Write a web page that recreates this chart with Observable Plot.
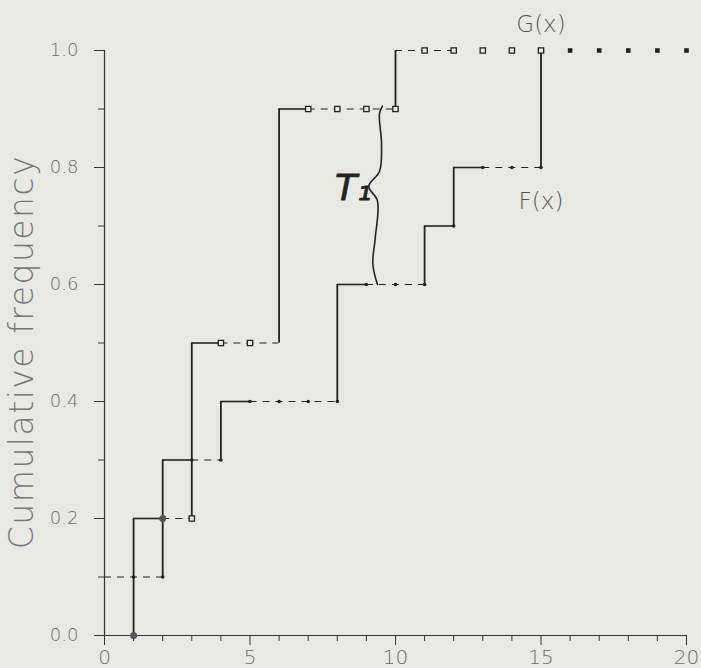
<!DOCTYPE html>
<html><head><meta charset="utf-8">
<script src="https://cdn.jsdelivr.net/npm/d3@7"></script>
<script src="https://cdn.jsdelivr.net/npm/@observablehq/plot@0.6"></script>
<style>
html,body{margin:0;padding:0;background:#e9e9e3;}
#chart svg{display:block;}
.ylab text{letter-spacing:1.5px;}
</style></head><body><div id="chart"></div>
<script>
// Step functions
const F_jumpX = [0, 2, 4, 8, 11, 12, 15];
const F_level = [0.1, 0.3, 0.4, 0.6, 0.7, 0.8, 1.0];
const G_jumpX = [1, 3, 6, 10];
const G_level = [0.2, 0.5, 0.9, 1.0];
// markers (left limits at integers)
const F_markX = [1,2,3,4,5,6,7,8,9,10,11,12,13,14,15];
const F_markY = [0.1,0.1,0.3,0.3,0.4,0.4,0.4,0.4,0.6,0.6,0.6,0.7,0.8,0.8,0.8];
const G_markX = [3,4,5,7,8,9,10,11,12,13,14,15];
const G_markY = [0.2,0.5,0.5,0.9,0.9,0.9,0.9,1,1,1,1,1];
const G_startX = [1,2];
const G_startY = [0,0.2];
const tailX = [16,17,18,19,20];
const tailY = [1,1,1,1,1];
const G_dashEnd = 12;
// ticks
const xMajor = [0,5,10,15,20];
const xMinor = [1,2,3,4,6,7,8,9,11,12,13,14,16,17,18,19];
const yMajor = [0,0.2,0.4,0.6,0.8,1.0];
const yMinor = [0.1,0.3,0.5,0.7,0.9];

const INK = "#222";
const BG = "#e9e9e3";
const FONT = "'DejaVu Sans', 'Noto Sans', sans-serif";

// build segments
const vSegs = [], hSolid = [], hDash = [];
F_jumpX.forEach((x, i) => { if (i > 0) vSegs.push({x, y1: F_level[i-1], y2: F_level[i]}); });
G_jumpX.forEach((x, i) => { vSegs.push({x, y1: i ? G_level[i-1] : 0, y2: G_level[i]}); });
for (let i = 0; i < F_jumpX.length - 1; i++) {
  const a = F_jumpX[i], b = F_jumpX[i+1], y = F_level[i];
  const s = i === 0 ? a : Math.min(a + 1, b);
  if (s > a) hSolid.push({x1: a, x2: s, y});
  if (b > s) hDash.push({x1: s, x2: b, y});
}
for (let i = 0; i < G_jumpX.length; i++) {
  const a = G_jumpX[i], b = i < G_jumpX.length - 1 ? G_jumpX[i+1] : G_dashEnd, y = G_level[i];
  const s = i === G_jumpX.length - 1 ? a : Math.min(a + 1, b);
  if (s > a) hSolid.push({x1: a, x2: s, y});
  if (b > s) hDash.push({x1: s, x2: b, y});
}
const zip = (xs, ys) => xs.map((x, i) => ({x, y: ys[i]}));

// brace between G=0.9 and F=0.6 near x = 9.5
const gTop = G_level[2], fBot = F_level[3], bx = G_jumpX[3] - 0.5;
const bm = fBot + (gTop - fBot) * 0.56;
const brace = [
  [bx + 0.05, gTop + 0.005], [bx - 0.05, gTop - 0.008], [bx + 0.02, gTop - 0.06],
  [bx - 0.05, bm + 0.025], [bx - 0.42, bm], [bx - 0.12, bm - 0.025],
  [bx - 0.2, bm - 0.09], [bx - 0.28, fBot + 0.035], [bx - 0.12, fBot]
].map(([x, y]) => ({x, y}));

const plot = Plot.plot({
  width: 701, height: 668,
  marginLeft: 104, marginRight: 15, marginTop: 50, marginBottom: 33,
  x: {domain: [0, 20], label: null},
  y: {domain: [0, 1], label: null},
  style: {background: BG, fontFamily: FONT},
  marks: [
    Plot.ruleX([0], {stroke: "#333", strokeWidth: 1.2}),
    Plot.ruleY([0], {stroke: "#333", strokeWidth: 1.2}),
    Plot.axisY(yMinor, {tickSize: 6, text: null, stroke: "#333", label: null}),
    Plot.axisY(yMajor, {tickSize: 10, text: null, stroke: "#333", label: null}),
    Plot.axisY(yMajor, {tickSize: 0, tickPadding: 26, tickFormat: d => d.toFixed(1), fontSize: 18, fontWeight: 200, fill: "#6a6a6a", label: null}),
    Plot.axisX(xMinor, {tickSize: 6, text: null, stroke: "#333", label: null}),
    Plot.axisX(xMajor, {tickSize: 10, text: null, stroke: "#333", label: null}),
    Plot.axisX(xMajor, {tickSize: 0, tickPadding: 14, fontSize: 20, fontWeight: 200, fill: "#6a6a6a", label: null}),
    Plot.text(["Cumulative frequency"], {className: "ylab", frameAnchor: "left", textAnchor: "middle", rotate: -90, dx: -82, dy: 9, fontSize: 33, fontWeight: 200, fill: "#777"}),
    Plot.ruleY(hDash, {y: "y", x1: "x1", x2: "x2", stroke: INK, strokeWidth: 1.1, strokeDasharray: "7,6"}),
    Plot.ruleY(hSolid, {y: "y", x1: "x1", x2: "x2", stroke: INK, strokeWidth: 1.6}),
    Plot.ruleX(vSegs, {x: "x", y1: "y1", y2: "y2", stroke: INK, strokeWidth: 1.8}),
    Plot.dot(zip(F_markX, F_markY), {x: "x", y: "y", r: 1.8, fill: INK}),
    Plot.dot(zip(G_markX, G_markY), {x: "x", y: "y", symbol: "square", r: 3, fill: BG, stroke: INK, strokeWidth: 1.3}),
    Plot.dot(zip(G_startX, G_startY), {x: "x", y: "y", r: 3.5, fill: "#555"}),
    Plot.dot(zip(tailX, tailY), {x: "x", y: "y", symbol: "square", r: 2.6, fill: INK}),
    Plot.line(brace, {x: "x", y: "y", curve: "catmull-rom", stroke: INK, strokeWidth: 1.6}),
    Plot.text(["T\u2081"], {x: bx - 0.95, y: bm, dy: 2, fontSize: 36, fontStyle: "italic", fontFamily: "'DejaVu Sans', sans-serif", fill: INK, stroke: INK, strokeWidth: 0.8}),
    Plot.text(["G(x)"], {x: G_markX[G_markX.length - 1], y: 1, dy: -26, fontSize: 23, fontWeight: 200, fill: "#555"}),
    Plot.text(["F(x)"], {x: F_jumpX[F_jumpX.length - 1], y: F_level[F_level.length - 2], dy: 34, fontSize: 23, fontWeight: 200, fill: "#555"})
  ]
});
document.getElementById("chart").appendChild(plot);
</script></body></html>
